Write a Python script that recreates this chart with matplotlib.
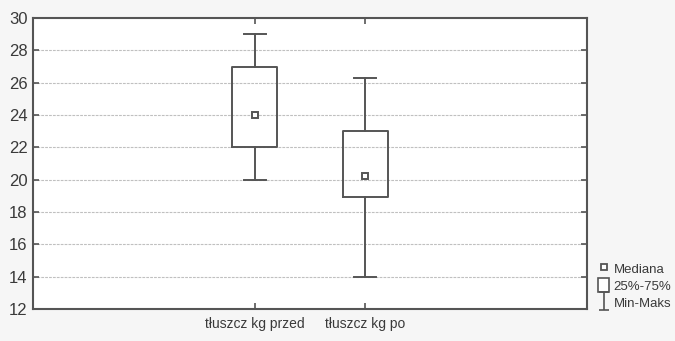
import matplotlib
matplotlib.use("Agg")
import matplotlib.pyplot as plt
from matplotlib.lines import Line2D
from matplotlib.patches import Rectangle
from matplotlib.path import Path
from matplotlib import font_manager

categories = ["tłuszcz kg przed", "tłuszcz kg po"]
mins = [20.0, 14.0]
q1s = [22.0, 18.95]
medians = [24.0, 20.2]
q3s = [27.0, 23.0]
maxs = [29.0, 26.3]
yticks = [12, 14, 16, 18, 20, 22, 24, 26, 28, 30]

names = {f.name for f in font_manager.fontManager.ttflist}
fam = "Liberation Sans Narrow" if "Liberation Sans Narrow" in names else "Liberation Sans"
plt.rcParams['font.family'] = [fam, 'DejaVu Sans']

txt = '#3a3a3a'
edge = '#555555'

fig = plt.figure(figsize=(6.75, 3.41), dpi=100, facecolor='#f6f6f6')
ax = fig.add_axes([33/675, 1-309/341, (587-33)/675, (309-18)/341])
ax.set_facecolor('white')

positions = [1, 2]
stats = []
for c, lo, a, m, b, hi in zip(categories, mins, q1s, medians, q3s, maxs):
    stats.append(dict(label=c, whislo=lo, q1=a, med=m, q3=b, whishi=hi, fliers=[]))

ax.bxp(stats, positions=positions, widths=0.41, capwidths=0.2, showfliers=False,
       boxprops=dict(color=edge, linewidth=1.4),
       whiskerprops=dict(color=edge, linewidth=1.4),
       capprops=dict(color=edge, linewidth=1.4),
       medianprops=dict(linewidth=0))
ax.plot(positions, medians, linestyle='none', marker='s', markersize=5,
        markerfacecolor='white', markeredgecolor=edge, markeredgewidth=1.4, zorder=5)

ax.set_xlim(-1, 4)
ax.set_ylim(12, 30)
ax.set_yticks(yticks)
ax.set_xticks(positions)
ax.set_xticklabels(categories)
for y in yticks[1:-1]:
    ax.axhline(y, color='#c0c0c0', linewidth=0.8, linestyle=(0, (2.5, 1)), zorder=0)

for s in ax.spines.values():
    s.set_color(edge)
    s.set_linewidth(1.5)
ax.tick_params(axis='both', direction='in', length=4, width=1.2, color=edge,
               top=True, right=True, labelcolor=txt)
ax.tick_params(axis='y', labelsize=12, pad=4)
ax.tick_params(axis='x', labelsize=10, pad=6)

vs = [(-0.5, -1), (0.5, -1), (0, -1), (0, 1), (-0.5, 1), (0.5, 1)]
cs = [Path.MOVETO, Path.LINETO, Path.MOVETO, Path.LINETO, Path.MOVETO, Path.LINETO]
imarker = Path(vs, cs)
handles = [
    Line2D([], [], linestyle='none', marker='s', markersize=5, markerfacecolor='white',
           markeredgecolor=edge, markeredgewidth=1.3),
    Rectangle((0, 0), 1, 1, facecolor='white', edgecolor=edge, linewidth=1.2),
    Line2D([], [], linestyle='none', marker=imarker, markersize=13, markerfacecolor='none',
           markeredgecolor=edge, markeredgewidth=1.2),
]
leg = fig.legend(handles, ["Mediana", "25%-75%", "Min-Maks"], loc='lower left',
                 bbox_to_anchor=(589/675, 22/341), frameon=False, fontsize=9.5,
                 handlelength=0.8, handleheight=1.25, handletextpad=0.35,
                 labelspacing=0.2, borderpad=0.2)
for t in leg.get_texts():
    t.set_color(txt)

fig.savefig("out.png", dpi=100, facecolor=fig.get_facecolor())
